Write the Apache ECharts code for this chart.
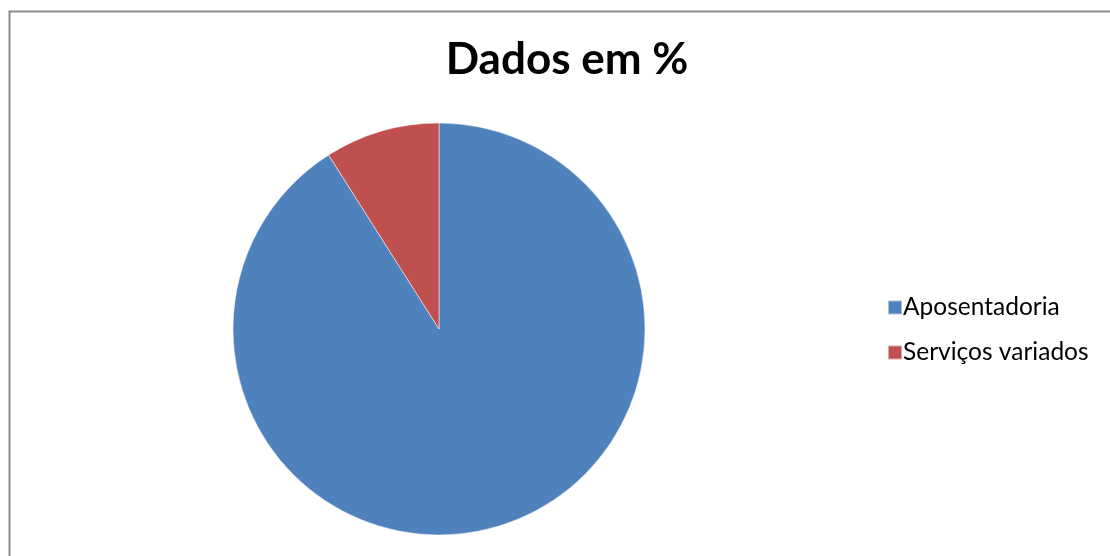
<!DOCTYPE html>
<html>
<head>
<meta charset="utf-8">
<script src="https://cdn.jsdelivr.net/npm/echarts@6/dist/echarts.min.js"></script>
<style>
  html, body { margin: 0; padding: 0; background: #fff; }
  #chart { width: 1110px; height: 556px; }
</style>
</head>
<body>
<div id="chart"></div>
<script>
const categories = ['Aposentadoria', 'Serviços variados']
const values = [91, 9]
const colors = ['#4F81BD', '#C0504D']

const chart = echarts.init(document.getElementById('chart'))
chart.setOption({
  animation: false,
  color: colors,
  graphic: [
    {
      type: 'rect',
      shape: { x: 9.5, y: 11.5, width: 1200, height: 700 },
      style: { fill: 'none', stroke: '#8c8c8c', lineWidth: 2 },
      silent: true
    }
  ],
  title: {
    text: 'Dados em %',
    left: 562,
    textAlign: 'center',
    top: 33,
    textStyle: {
      fontFamily: 'Lato',
      fontWeight: 'bold',
      fontSize: 44,
      color: '#000'
    }
  },
  legend: {
    orient: 'vertical',
    left: 882,
    top: 290,
    icon: 'rect',
    itemWidth: 14,
    itemHeight: 14,
    itemGap: 20,
    textStyle: {
      fontFamily: 'Lato',
      fontSize: 24.5,
      color: '#000',
      padding: [0, 0, 0, -4]
    },
    data: categories
  },
  series: [
    {
      type: 'pie',
      center: [439, 329],
      radius: 206,
      startAngle: 90,
      clockwise: true,
      label: { show: false },
      labelLine: { show: false },
      itemStyle: { borderColor: 'rgba(255,255,255,0.5)', borderWidth: 1 },
      data: categories.map((name, i) => ({ name: name, value: values[i] }))
    }
  ]
})
</script>
</body>
</html>
